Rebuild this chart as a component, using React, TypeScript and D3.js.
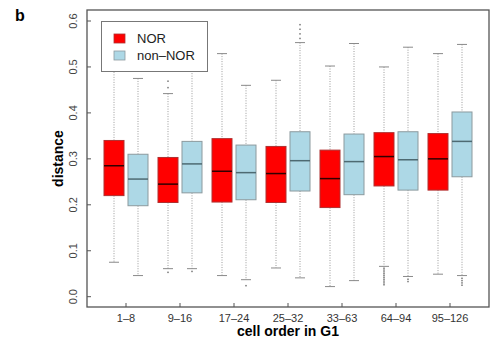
import React, { useRef, useEffect } from 'react';
import { select, scaleLinear, scaleBand } from 'd3';

const groups = ['1–8', '9–16', '17–24', '25–32', '33–63', '64–94', '95–126'];
const yTicks = [0, 0.1, 0.2, 0.3, 0.4, 0.5, 0.6];

// NOR boxes
const norLow = [0.075, 0.061, 0.046, 0.0625, 0.022, 0.066, 0.049];
const norQ1 = [0.22, 0.205, 0.206, 0.205, 0.194, 0.241, 0.232];
const norMed = [0.285, 0.245, 0.273, 0.268, 0.257, 0.305, 0.3];
const norQ3 = [0.34, 0.303, 0.344, 0.327, 0.319, 0.357, 0.355];
const norHigh = [0.56, 0.442, 0.529, 0.471, 0.502, 0.5, 0.529];
const norOut = [
    [],
    [0.053, 0.455, 0.469],
    [],
    [],
    [],
    [0.062, 0.058, 0.054, 0.05, 0.046, 0.042, 0.038, 0.034, 0.03, 0.026],
    [],
];

// non-NOR boxes
const nonLow = [0.046, 0.061, 0.037, 0.041, 0.035, 0.044, 0.046];
const nonQ1 = [0.198, 0.226, 0.211, 0.23, 0.222, 0.232, 0.261];
const nonMed = [0.256, 0.289, 0.27, 0.296, 0.294, 0.298, 0.338];
const nonQ3 = [0.31, 0.338, 0.33, 0.359, 0.354, 0.359, 0.402];
const nonHigh = [0.475, 0.53, 0.46, 0.553, 0.551, 0.543, 0.549];
const nonOut = [
    [],
    [0.055],
    [0.024],
    [0.562, 0.572, 0.582, 0.592],
    [],
    [0.038, 0.033],
    [0.04, 0.035, 0.03, 0.025],
];

const FONT = '"Liberation Sans", Arial, Helvetica, sans-serif';

export default function App() {
    const svgRef: { current: SVGSVGElement | null } = useRef(null);

    useEffect(() => {
        const svg = select(svgRef.current);
        svg.selectAll('*').remove();

        const left = 87;
        const right = 489;
        const top = 10;
        const bottom = 307;

        const yScale = scaleLinear().domain([0, 0.6]).range([296.7, 21]);
        const xScale = scaleBand().domain(groups).range([99, 477]).padding(0);
        const center = (g: string) => (xScale(g) || 0) + xScale.bandwidth() / 2;

        const series = [
            { name: 'NOR', fill: '#ff0000', border: '#b03030', median: '#300000', off: -12, low: norLow, q1: norQ1, med: norMed, q3: norQ3, high: norHigh, out: norOut },
            { name: 'non–NOR', fill: '#add8e6', border: '#8c9a9e', median: '#4e6a72', off: 12, low: nonLow, q1: nonQ1, med: nonMed, q3: nonQ3, high: nonHigh, out: nonOut },
        ];
        const boxW = 20;
        const capW = 10;

        const plot = svg.append('g');

        series.forEach((s) => {
            groups.forEach((g, i) => {
                const cx = center(g) + s.off;
                // whiskers (dotted)
                plot.append('line')
                    .attr('x1', cx).attr('x2', cx)
                    .attr('y1', yScale(s.high[i])).attr('y2', yScale(s.q3[i]))
                    .attr('stroke', '#9a9a9a').attr('stroke-dasharray', '1,1.5');
                plot.append('line')
                    .attr('x1', cx).attr('x2', cx)
                    .attr('y1', yScale(s.q1[i])).attr('y2', yScale(s.low[i]))
                    .attr('stroke', '#9a9a9a').attr('stroke-dasharray', '1,1.5');
                // caps
                [s.high[i], s.low[i]].forEach((v) => {
                    plot.append('line')
                        .attr('x1', cx - capW / 2).attr('x2', cx + capW / 2)
                        .attr('y1', yScale(v)).attr('y2', yScale(v))
                        .attr('stroke', '#8a8a8a').attr('stroke-width', 1);
                });
                // outliers
                s.out[i].forEach((v) => {
                    plot.append('rect')
                        .attr('x', cx - 0.75).attr('y', yScale(v) - 0.75)
                        .attr('width', 1.5).attr('height', 1.5)
                        .attr('fill', '#777');
                });
                // box
                plot.append('rect')
                    .attr('x', cx - boxW / 2).attr('y', yScale(s.q3[i]))
                    .attr('width', boxW).attr('height', yScale(s.q1[i]) - yScale(s.q3[i]))
                    .attr('fill', s.fill).attr('stroke', s.border).attr('stroke-width', 1);
                plot.append('line')
                    .attr('x1', cx - boxW / 2).attr('x2', cx + boxW / 2)
                    .attr('y1', yScale(s.med[i])).attr('y2', yScale(s.med[i]))
                    .attr('stroke', s.median).attr('stroke-width', 1.5);
            });
        });

        // frame
        svg.append('rect')
            .attr('x', left).attr('y', top)
            .attr('width', right - left).attr('height', bottom - top)
            .attr('fill', 'none').attr('stroke', '#555').attr('stroke-width', 1.3);

        // y axis (ticks inward, rotated labels)
        yTicks.forEach((t) => {
            const y = yScale(t);
            svg.append('line')
                .attr('x1', left).attr('x2', left + 4)
                .attr('y1', y).attr('y2', y)
                .attr('stroke', '#555');
            svg.append('text')
                .attr('transform', `translate(77,${y}) rotate(-90)`)
                .attr('text-anchor', 'middle')
                .attr('font-family', FONT).attr('font-size', 11).attr('fill', '#444')
                .text(t.toFixed(1));
        });

        // x axis
        groups.forEach((g) => {
            const x = center(g);
            svg.append('line')
                .attr('x1', x).attr('x2', x)
                .attr('y1', bottom).attr('y2', bottom - 4)
                .attr('stroke', '#555');
            svg.append('text')
                .attr('x', x).attr('y', 322)
                .attr('text-anchor', 'middle')
                .attr('font-family', FONT).attr('font-size', 11).attr('fill', '#333')
                .text(g);
        });

        svg.append('text')
            .attr('x', (left + right) / 2).attr('y', 336)
            .attr('text-anchor', 'middle')
            .attr('font-family', FONT).attr('font-size', 14).attr('font-weight', 'bold')
            .text('cell order in G1');

        svg.append('text')
            .attr('transform', `translate(63,${(top + bottom) / 2}) rotate(-90)`)
            .attr('text-anchor', 'middle')
            .attr('font-family', FONT).attr('font-size', 14).attr('font-weight', 'bold')
            .text('distance');

        svg.append('text')
            .attr('x', 15).attr('y', 21)
            .attr('font-family', FONT).attr('font-size', 16).attr('font-weight', 'bold')
            .text('b');

        // legend
        const legend = svg.append('g');
        legend.append('rect')
            .attr('x', 101.5).attr('y', 21.5).attr('width', 106).attr('height', 50)
            .attr('fill', '#fff').attr('stroke', '#777');
        series.forEach((s, i) => {
            const ly = 38.5 + i * 17;
            legend.append('rect')
                .attr('x', 114).attr('y', ly - 4.5).attr('width', 11).attr('height', 9)
                .attr('fill', s.fill).attr('stroke', s.border).attr('stroke-width', 0.8);
            legend.append('text')
                .attr('x', 137).attr('y', ly + 4.5)
                .attr('font-family', FONT).attr('font-size', 13).attr('fill', '#222')
                .text(s.name);
        });
    }, []);

    return (
        <svg
            ref={svgRef}
            width={500}
            height={345}
            style={{ position: 'absolute', left: 0, top: 0, background: '#fff' }}
        />
    );
}
